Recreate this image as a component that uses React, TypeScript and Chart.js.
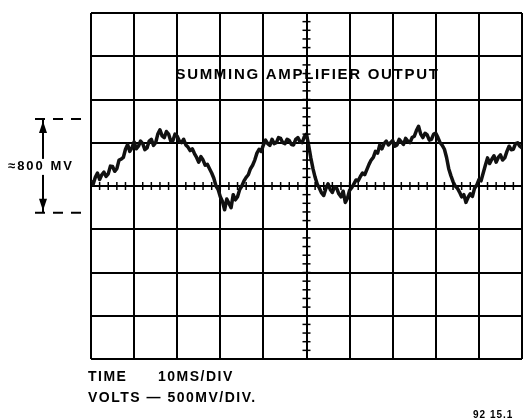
import { useEffect, useRef } from "react";
import { Chart, registerables } from "chart.js";

Chart.register(...registerables);

// Time axis (ms), 10 ms/div, sampled every 0.5 ms
const timeMs = [
  0, 0.5, 1, 1.5, 2, 2.5, 3, 3.5, 4, 4.5, 5, 5.5, 6, 6.5, 7, 7.5, 8, 8.5, 9, 9.5,
  10, 10.5, 11, 11.5, 12, 12.5, 13, 13.5, 14, 14.5, 15, 15.5, 16, 16.5, 17, 17.5, 18, 18.5, 19, 19.5,
  20, 20.5, 21, 21.5, 22, 22.5, 23, 23.5, 24, 24.5, 25, 25.5, 26, 26.5, 27, 27.5, 28, 28.5, 29, 29.5,
  30, 30.5, 31, 31.5, 32, 32.5, 33, 33.5, 34, 34.5, 35, 35.5, 36, 36.5, 37, 37.5, 38, 38.5, 39, 39.5,
  40, 40.5, 41, 41.5, 42, 42.5, 43, 43.5, 44, 44.5, 45, 45.5, 46, 46.5, 47, 47.5, 48, 48.5, 49, 49.5,
  50, 50.5, 51, 51.5, 52, 52.5, 53, 53.5, 54, 54.5, 55, 55.5, 56, 56.5, 57, 57.5, 58, 58.5, 59, 59.5,
  60, 60.5, 61, 61.5, 62, 62.5, 63, 63.5, 64, 64.5, 65, 65.5, 66, 66.5, 67, 67.5, 68, 68.5, 69, 69.5,
  70, 70.5, 71, 71.5, 72, 72.5, 73, 73.5, 74, 74.5, 75, 75.5, 76, 76.5, 77, 77.5, 78, 78.5, 79, 79.5,
  80, 80.5, 81, 81.5, 82, 82.5, 83, 83.5, 84, 84.5, 85, 85.5, 86, 86.5, 87, 87.5, 88, 88.5, 89, 89.5,
  90, 90.5, 91, 91.5, 92, 92.5, 93, 93.5, 94, 94.5, 95, 95.5, 96, 96.5, 97, 97.5, 98, 98.5, 99, 99.5,
  100,
];

// Summing amplifier output (mV), 500 mV/div
const outputMv = [
  60, 20, 100, 150, 75, 130, 160, 110, 140, 230, 225, 170, 200, 300, 310, 330, 425, 480, 400, 440,
  510, 430, 460, 520, 490, 420, 440, 520, 540, 470, 500, 600, 650, 580, 560, 630, 600, 520, 525, 600,
  575, 520, 500, 540, 475, 450, 410, 430, 375, 330, 275, 340, 300, 240, 250, 200, 150, 90, 0, -40,
  -125, -180, -275, -150, -200, -250, -100, -160, -125, -40, 0, 60, 100, 130, 200, 240, 300, 380, 425, 400,
  475, 530, 490, 470, 540, 490, 500, 560, 550, 500, 490, 540, 525, 480, 475, 540, 560, 510, 500, 570,
  600, 470, 325, 200, 100, 20, -25, -80, -110, -30, 25, -40, -75, -10, -25, -90, -125, -60, -190, -140,
  -50, -20, 25, 70, 60, 110, 150, 130, 190, 250, 300, 330, 400, 380, 475, 430, 490, 520, 475, 500,
  525, 460, 475, 540, 510, 480, 550, 520, 500, 560, 575, 640, 690, 600, 560, 610, 590, 530, 540, 600,
  610, 560, 500, 470, 425, 330, 200, 120, 50, 0, -25, -70, -125, -100, -190, -130, -90, -120, -25, 10,
  75, 60, 150, 240, 325, 260, 310, 350, 275, 330, 360, 300, 325, 400, 460, 420, 425, 490, 500, 460,
  440,
];

const titleText = "SUMMING AMPLIFIER OUTPUT";
const swingLabel = "≈800 MV";
const swingTopMv = 775;
const swingBottomMv = -310;
const timeLabel = "TIME";
const timeValue = "10MS/DIV";
const voltsLabel = "VOLTS — 500MV/DIV.";
const figCode = "92 15.1";

const overlay = {
  id: "overlay",
  afterDraw(chart: any) {
    const { ctx, chartArea: a, scales } = chart;
    const x = scales.x;
    const y = scales.y;
    const line = (x1: number, y1: number, x2: number, y2: number) => {
      ctx.beginPath();
      ctx.moveTo(x1, y1);
      ctx.lineTo(x2, y2);
      ctx.stroke();
    };
    ctx.save();
    ctx.strokeStyle = "#000";
    ctx.fillStyle = "#000";
    // minor ticks on the centre axes
    ctx.lineWidth = 1.5;
    const cx = x.getPixelForValue(50);
    const cy = y.getPixelForValue(0);
    for (let t = 0; t <= 100; t += 2) {
      const px = x.getPixelForValue(t);
      line(px, cy - 4, px, cy + 4);
    }
    for (let v = -2000; v <= 2000; v += 100) {
      const py = y.getPixelForValue(v);
      line(cx - 4, py, cx + 4, py);
    }

    // title inside the graticule
    ctx.font = 'bold 15px "Liberation Sans", Arial, sans-serif';
    (ctx as any).letterSpacing = "1.7px";
    ctx.textAlign = "center";
    ctx.textBaseline = "middle";
    ctx.fillText(titleText, cx + 1, y.getPixelForValue(1285));

    // swing annotation on the left
    const ax = a.left - 48;
    const ty = y.getPixelForValue(swingTopMv);
    const by = y.getPixelForValue(swingBottomMv);
    ctx.lineWidth = 2;
    ctx.setLineDash([10, 8]);
    line(ax - 8, ty, a.left - 5, ty);
    line(ax - 8, by, a.left - 5, by);
    ctx.setLineDash([]);
    line(ax, ty, ax, by);
    ctx.beginPath();
    ctx.moveTo(ax, ty + 2);
    ctx.lineTo(ax - 4, ty + 14);
    ctx.lineTo(ax + 4, ty + 14);
    ctx.closePath();
    ctx.fill();
    ctx.beginPath();
    ctx.moveTo(ax, by - 2);
    ctx.lineTo(ax - 4, by - 14);
    ctx.lineTo(ax + 4, by - 14);
    ctx.closePath();
    ctx.fill();
    const my = (ty + by) / 2 + 1;
    ctx.font = 'bold 13px "Liberation Sans", Arial, sans-serif';
    (ctx as any).letterSpacing = "2px";
    ctx.textAlign = "left";
    const w = ctx.measureText(swingLabel).width;
    ctx.fillStyle = "#fff";
    ctx.fillRect(a.left - 84, my - 8, w + 2, 16);
    ctx.fillStyle = "#000";
    ctx.fillText(swingLabel, a.left - 83, my);

    // bottom captions
    ctx.font = 'bold 14px "Liberation Sans", Arial, sans-serif';
    (ctx as any).letterSpacing = "1.5px";
    ctx.textAlign = "left";
    ctx.fillText(timeLabel, a.left - 3, a.bottom + 18);
    ctx.fillText(timeValue, a.left + 67, a.bottom + 18);
    ctx.fillText(voltsLabel, a.left - 3, a.bottom + 39);

    ctx.font = 'bold 10px "Liberation Sans", Arial, sans-serif';
    (ctx as any).letterSpacing = "1px";
    ctx.fillText(figCode, a.right - 49, a.bottom + 56);
    ctx.restore();
  },
};

export default function App() {
  const ref = useRef<HTMLCanvasElement>(null);
  useEffect(() => {
    const canvas = ref.current;
    if (!canvas) return;
    const chart = new Chart(canvas, {
      type: "line",
      data: {
        datasets: [
          {
            data: timeMs.map((t, i) => ({ x: t, y: outputMv[i] })),
            borderColor: "#111",
            borderWidth: 3.5,
            pointRadius: 0,
            tension: 0,
            borderJoinStyle: "round",
          },
        ],
      },
      options: {
        animation: false,
        responsive: false,
        maintainAspectRatio: false,
        layout: { padding: { left: 91, right: 2, top: 13, bottom: 61 } },
        plugins: { legend: { display: false }, tooltip: { enabled: false }, title: { display: false } },
        scales: {
          x: {
            type: "linear",
            min: 0,
            max: 100,
            ticks: { display: false, stepSize: 10 },
            grid: { color: "#000", lineWidth: 2, drawTicks: false },
            border: { display: false },
          },
          y: {
            type: "linear",
            min: -2000,
            max: 2000,
            ticks: { display: false, stepSize: 500 },
            grid: { color: "#000", lineWidth: 2, drawTicks: false },
            border: { display: false },
          },
        },
      },
      plugins: [overlay],
    });
    return () => chart.destroy();
  }, []);
  return (
    <div style={{ position: "fixed", left: 0, top: 0, width: 524, height: 420, background: "#fff" }}>
      <canvas ref={ref} width={524} height={420} style={{ display: "block", width: 524, height: 420 }} />
    </div>
  );
}
